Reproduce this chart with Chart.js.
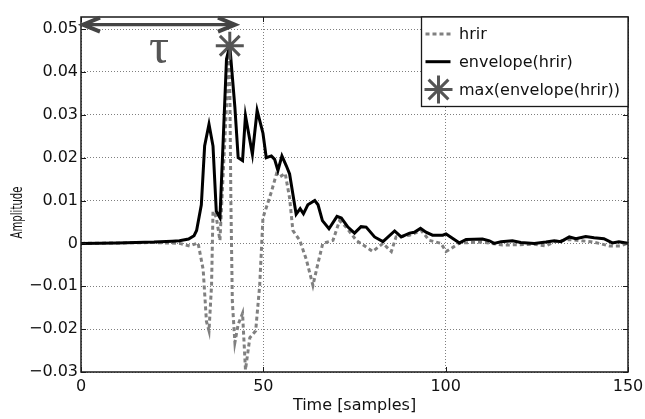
<!DOCTYPE html>
<html>
<head>
<meta charset="utf-8">
<script src="https://cdn.jsdelivr.net/npm/chart.js@4.4.1/dist/chart.umd.min.js"></script>
<style>
  html, body { margin: 0; padding: 0; background: #fff; }
  canvas { display: block; }
</style>
</head>
<body>
<canvas id="hrir-chart" width="645" height="419"></canvas>
<script>
// hrir (dashed grey)
const hrirTime = [0, 10, 20, 27.1, 29.8, 32.1, 33.5, 34.4, 35.1, 35.8,
  36.2, 37.1, 38.1, 40.7, 41.1, 41.5, 42.2, 43.1, 44.3, 45.1,
  46.3, 47.9, 49.0, 49.9, 50.8, 52.2, 53.6, 54.5, 56.0, 57.2,
  58.1, 60.0, 61.8, 63.6, 65.0, 66.3, 69.1, 70.9, 72.7, 75.5,
  80.0, 82.8, 85.1, 86.4, 90.1, 93.3, 95.5, 98.7, 100.1, 101.5,
  103.8, 110.1, 115.6, 124.3, 127.5, 129.8, 133.9, 139.8, 142.1, 144.9,
  148.0, 150]
const hrirAmp = [0, 0.0001, 0.0002, 0, -0.0006, 0.0001, -0.0061, -0.0182, -0.0204, -0.0098,
  0.0075, 0.0061, 0.0007, 0.0461, 0.01, -0.0136, -0.0231, -0.0189, -0.0163, -0.0295,
  -0.022, -0.0204, -0.0098, 0.006, 0.0083, 0.012, 0.0162, 0.0155, 0.0163, 0.0106,
  0.003, 0.0007, -0.0038, -0.0098, -0.0046, 0, 0.0007, 0.0053, 0.0038, 0.0007,
  -0.0019, 0, -0.0019, 0.0015, 0.0019, 0.003, 0.0007, 0, -0.0019, -0.0012,
  0.0001, 0.0003, -0.0004, -0.0002, -0.0006, 0.0004, 0.0009, 0.0004, 0, -0.0006,
  -0.0006, 0.0001]

// envelope(hrir) (solid black)
const envTime = [0, 10, 20, 25, 27, 29.5, 31, 31.7, 33.0, 33.9,
  35.1, 36.2, 37.1, 38.1, 39.0, 39.9, 40.8, 42.2, 43.1, 44.3,
  45.1, 47.0, 48.3, 49.9, 50.8, 52.2, 53.1, 54.0, 55.1, 56.3,
  57.2, 59.0, 60.1, 61.0, 62.2, 64.1, 65.0, 66.2, 68.0, 70.2,
  71.4, 73.2, 75.0, 76.8, 78.2, 80.5, 82.8, 86.0, 87.8, 90.1,
  91.4, 93.1, 94.6, 96.4, 99.2, 100.1, 103.8, 105.6, 110.1, 112.0,
  113.3, 115.2, 118.3, 120.6, 124.3, 127.5, 129.8, 131.6, 133.9, 135.7,
  138.4, 140.7, 143.4, 145.7, 147.5, 150]
const envAmp = [0, 0.0001, 0.0003, 0.0005, 0.0006, 0.001, 0.0018, 0.003, 0.009, 0.0227,
  0.0278, 0.0227, 0.0075, 0.006, 0.0242, 0.043, 0.0461, 0.0317, 0.02, 0.0193,
  0.0298, 0.0208, 0.031, 0.0257, 0.02, 0.0204, 0.0196, 0.017, 0.0204, 0.0181,
  0.0162, 0.0068, 0.0081, 0.0069, 0.009, 0.01, 0.009, 0.0053, 0.0034, 0.0063,
  0.0059, 0.0038, 0.0024, 0.0039, 0.0038, 0.0015, 0.0004, 0.0029, 0.0015, 0.0024,
  0.0026, 0.0035, 0.0026, 0.0019, 0.0019, 0.0022, 0.0001, 0.0009, 0.001, 0.0006,
  0, 0.0004, 0.0006, 0.0002, 0, 0.0003, 0.0006, 0.0004, 0.0015, 0.0011,
  0.0016, 0.0013, 0.0011, 0.0001, 0.0004, 0]

// max(envelope(hrir))
const maxTime = [40.8]
const maxAmp = [0.0461]

// tau arrow span (samples) and height
const tauSpan = [0, 42.5]
const tauLevel = 0.051

const xTicks = [0, 50, 100, 150]
const yTicks = [-0.03, -0.02, -0.01, 0, 0.01, 0.02, 0.03, 0.04, 0.05]

const FONT = "DejaVu Sans"
const toPoints = (xs, ys) => xs.map((x, i) => ({x: x, y: ys[i]}))

const fmtY = (v) => {
  const r = Math.round(v * 100) / 100
  if (r === 0) return "0"
  return (r < 0 ? "\u2212" : "") + Math.abs(r).toFixed(2)
}

const drawStar = (ctx, cx, cy, r) => {
  ctx.beginPath()
  for (let k = 0; k < 4; k++) {
    const ang = k * Math.PI / 4
    ctx.moveTo(cx - r * Math.cos(ang), cy - r * Math.sin(ang))
    ctx.lineTo(cx + r * Math.cos(ang), cy + r * Math.sin(ang))
  }
  ctx.stroke()
}

const decorations = {
  id: "decorations",
  afterDraw(chart) {
    const {ctx, chartArea: a, scales: {x, y}} = chart
    const ds = chart.data.datasets
    ctx.save()

    // box + inward ticks
    ctx.strokeStyle = "#1a1a1a"
    ctx.lineWidth = 1.5
    ctx.strokeRect(a.left, a.top, a.right - a.left, a.bottom - a.top)
    ctx.lineWidth = 1
    ctx.beginPath()
    y.ticks.forEach(t => {
      const py = Math.round(y.getPixelForValue(t.value)) + 0.5
      ctx.moveTo(a.left, py); ctx.lineTo(a.left + 5, py)
      ctx.moveTo(a.right, py); ctx.lineTo(a.right - 5, py)
    })
    x.ticks.forEach(t => {
      const px = Math.round(x.getPixelForValue(t.value)) + 0.5
      ctx.moveTo(px, a.bottom); ctx.lineTo(px, a.bottom - 5)
      ctx.moveTo(px, a.top); ctx.lineTo(px, a.top + 5)
    })
    ctx.stroke()

    // legend
    const lx = a.right - 206.5, ly = a.top
    ctx.fillStyle = "#fff"
    ctx.fillRect(lx, ly, a.right - lx, 89.5)
    ctx.strokeStyle = "#1a1a1a"
    ctx.lineWidth = 1.3
    ctx.strokeRect(lx, ly, a.right - lx, 89.5)
    const rows = [17, 44.7, 72.5]
    ctx.font = `16px "${FONT}"`
    ctx.textBaseline = "middle"
    ctx.textAlign = "left"
    ds.forEach((d, i) => {
      const ry = ly + rows[i]
      if (d.showLine === false) {
        ctx.lineWidth = d.pointBorderWidth
        ctx.strokeStyle = d.pointBorderColor
        ctx.setLineDash([])
        drawStar(ctx, lx + 17, ry, d.pointRadius)
      } else {
        ctx.lineWidth = d.borderWidth
        ctx.strokeStyle = d.borderColor
        ctx.setLineDash(d.borderDash || [])
        ctx.beginPath()
        ctx.moveTo(lx + 4, ry); ctx.lineTo(lx + 29, ry)
        ctx.stroke()
      }
      ctx.setLineDash([])
      ctx.fillStyle = "#111"
      ctx.fillText(d.label, lx + 37.5, ry + 1)
    })

    // tau arrow
    const ay = y.getPixelForValue(tauLevel)
    const ax0 = x.getPixelForValue(tauSpan[0]) + 1
    const ax1 = x.getPixelForValue(tauSpan[1])
    ctx.strokeStyle = "#444"
    ctx.lineWidth = 3.3
    ctx.lineCap = "butt"
    ctx.beginPath()
    ctx.moveTo(ax0 + 2, ay); ctx.lineTo(ax1 - 2, ay)
    ctx.stroke()
    ctx.lineWidth = 4
    ctx.lineJoin = "miter"
    ctx.beginPath()
    ctx.moveTo(ax0 + 18, ay - 7); ctx.lineTo(ax0 + 1, ay); ctx.lineTo(ax0 + 18, ay + 7)
    ctx.moveTo(ax1 - 18, ay - 7); ctx.lineTo(ax1 - 1, ay); ctx.lineTo(ax1 - 18, ay + 7)
    ctx.stroke()

    // tau label
    ctx.fillStyle = "#555"
    ctx.font = '50px "Liberation Serif"'
    ctx.textAlign = "center"
    ctx.textBaseline = "alphabetic"
    ctx.fillText("\u03c4", (ax0 + ax1) / 2, ay + 38)

    // y axis title
    ctx.translate(17.5, (a.top + a.bottom) / 2 + 18)
    ctx.rotate(-Math.PI / 2)
    ctx.font = `16px "${FONT}"`
    ctx.fillStyle = "#111"
    ctx.textAlign = "center"
    ctx.textBaseline = "middle"
    const w = ctx.measureText("Amplitude").width
    ctx.scale(52 / w, 1)
    ctx.fillText("Amplitude", 0, 0)

    ctx.restore()
  }
}

const ctx = document.getElementById("hrir-chart").getContext("2d")

new Chart(ctx, {
  type: "line",
  data: {
    datasets: [
      {
        label: "hrir",
        data: toPoints(hrirTime, hrirAmp),
        borderColor: "#808080",
        borderWidth: 3,
        borderDash: [4, 3],
        pointRadius: 0,
        tension: 0,
        order: 3
      },
      {
        label: "envelope(hrir)",
        data: toPoints(envTime, envAmp),
        borderColor: "#000",
        borderWidth: 3,
        pointRadius: 0,
        tension: 0,
        order: 2
      },
      {
        label: "max(envelope(hrir))",
        data: toPoints(maxTime, maxAmp),
        showLine: false,
        pointStyle: "star",
        pointRadius: 14,
        pointBorderWidth: 3,
        pointBorderColor: "#555",
        pointBackgroundColor: "#555",
        clip: false,
        order: 1
      }
    ]
  },
  options: {
    responsive: false,
    animation: false,
    devicePixelRatio: 1,
    layout: { padding: { left: 0, top: 7, right: 16, bottom: 0 } },
    plugins: { legend: { display: false }, tooltip: { enabled: false } },
    scales: {
      x: {
        type: "linear",
        min: 0,
        max: 150,
        afterBuildTicks: (scale) => { scale.ticks = xTicks.map(v => ({value: v})) },
        afterFit: (scale) => { scale.height = 47; scale.paddingLeft = 0; scale.paddingRight = 0 },
        grid: { color: "rgba(0,0,0,0.5)", lineWidth: 1, drawTicks: false },
        border: { display: false, dash: [1, 2] },
        ticks: { padding: 5, color: "#111", font: { family: FONT, size: 16 }, maxRotation: 0 },
        title: { display: true, text: "Time [samples]", color: "#111", font: { family: FONT, size: 16 }, padding: { top: 0, bottom: 3.4 } }
      },
      y: {
        min: -0.03,
        max: 0.0528,
        afterBuildTicks: (scale) => { scale.ticks = yTicks.map(v => ({value: v})) },
        afterFit: (scale) => { scale.width = 81; scale.paddingTop = 0; scale.paddingBottom = 0 },
        grid: { color: "rgba(0,0,0,0.5)", lineWidth: 1, drawTicks: false },
        border: { display: false, dash: [1, 2] },
        ticks: { padding: 3, color: "#111", font: { family: FONT, size: 16 }, callback: (v) => fmtY(v) }
      }
    }
  },
  plugins: [decorations]
})
</script>
</body>
</html>
